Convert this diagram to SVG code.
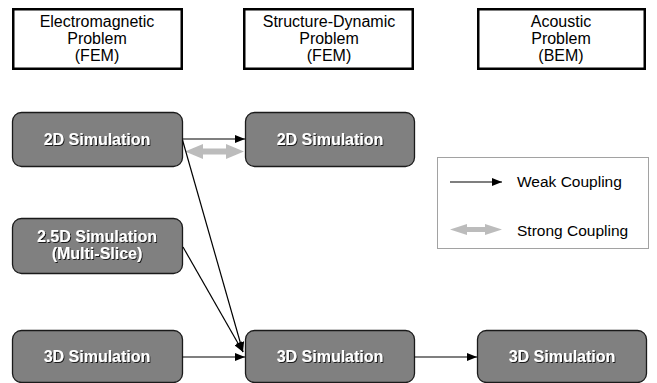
<svg xmlns="http://www.w3.org/2000/svg" width="657" height="383" viewBox="0 0 657 383">
<style>
.hdr rect{fill:#fff;stroke:#000;stroke-width:2.5}
.hdr text{font-family:"Liberation Sans",Arial,sans-serif;font-size:16px;fill:#000;text-anchor:middle}
.node rect{fill:#808080;stroke:#1a1a1a;stroke-width:1.3}
.node text{font-family:"Liberation Sans",Arial,sans-serif;font-size:16px;font-weight:bold;fill:#fff;text-anchor:middle;filter:url(#sh)}
.weak{stroke:#000;stroke-width:1.2;fill:none;marker-end:url(#ah)}
.strong{fill:#bcbcbc;stroke:none}
.leg text{font-family:"Liberation Sans",Arial,sans-serif;font-size:15.5px;fill:#000}
</style>
<defs>
<marker id="ah" viewBox="0 0 10 8" refX="10" refY="4" markerWidth="10" markerHeight="8" markerUnits="userSpaceOnUse" orient="auto">
<path d="M0,0 L10,4 L0,8 Z" fill="#000"/>
</marker>
<filter id="sh" x="-10%" y="-30%" width="120%" height="160%">
<feDropShadow dx="1" dy="1" stdDeviation="0.4" flood-color="#000" flood-opacity="0.8"/>
</filter>
</defs>

<g id="hdr-em" class="hdr">
<rect x="13.25" y="9.25" width="168.5" height="59.5"/>
<text x="97" y="27">Electromagnetic</text>
<text x="97" y="44">Problem</text>
<text x="97" y="61">(FEM)</text>
</g>
<g id="hdr-sd" class="hdr">
<rect x="244.25" y="9.25" width="168.5" height="59.5"/>
<text x="329" y="27">Structure-Dynamic</text>
<text x="329" y="44">Problem</text>
<text x="329" y="61">(FEM)</text>
</g>
<g id="hdr-ac" class="hdr">
<rect x="478.25" y="9.25" width="166.5" height="59.5"/>
<text x="561" y="27">Acoustic</text>
<text x="561" y="44">Problem</text>
<text x="561" y="61">(BEM)</text>
</g>

<g id="em-2d" class="node">
<rect x="12.5" y="112.5" width="170" height="54" rx="9"/>
<text x="97" y="145">2D Simulation</text>
</g>
<g id="em-25d" class="node">
<rect x="12.5" y="218.5" width="170" height="55" rx="9"/>
<text x="97" y="242">2.5D Simulation</text>
<text x="97" y="259">(Multi-Slice)</text>
</g>
<g id="em-3d" class="node">
<rect x="12.5" y="330.5" width="170" height="52" rx="9"/>
<text x="97" y="362">3D Simulation</text>
</g>
<g id="sd-2d" class="node">
<rect x="245.5" y="112.5" width="169" height="54" rx="9"/>
<text x="330" y="145">2D Simulation</text>
</g>
<g id="sd-3d" class="node">
<rect x="245.5" y="330.5" width="169" height="52" rx="9"/>
<text x="330" y="362">3D Simulation</text>
</g>
<g id="ac-3d" class="node">
<rect x="477.5" y="330.5" width="169" height="52" rx="9"/>
<text x="562" y="362">3D Simulation</text>
</g>

<g id="connectors">
<line class="weak" x1="182.5" y1="139" x2="245" y2="139"/>
<path class="strong" d="M185,151.5 L203,144 L203,148.5 L226,148.5 L226,144 L244,151.5 L226,159 L226,154.5 L203,154.5 L203,159 Z"/>
<line class="weak" x1="182.5" y1="140" x2="243" y2="352"/>
<line class="weak" x1="183" y1="247" x2="243" y2="352"/>
<line class="weak" x1="182.5" y1="357" x2="245" y2="357"/>
<line class="weak" x1="414.5" y1="357" x2="477" y2="357"/>
</g>

<g id="legend" class="leg">
<rect x="437.5" y="157.5" width="211" height="91" fill="#fff" stroke="#444" stroke-width="1" stroke-dasharray="1,1"/>
<line class="weak" x1="450" y1="182" x2="502" y2="182"/>
<path class="strong" d="M450,229.5 L467,224 L467,227 L485,227 L485,224 L502,229.5 L485,235 L485,232 L467,232 L467,235 Z"/>
<text x="517" y="187">Weak Coupling</text>
<text x="517" y="236">Strong Coupling</text>
</g>
</svg>
